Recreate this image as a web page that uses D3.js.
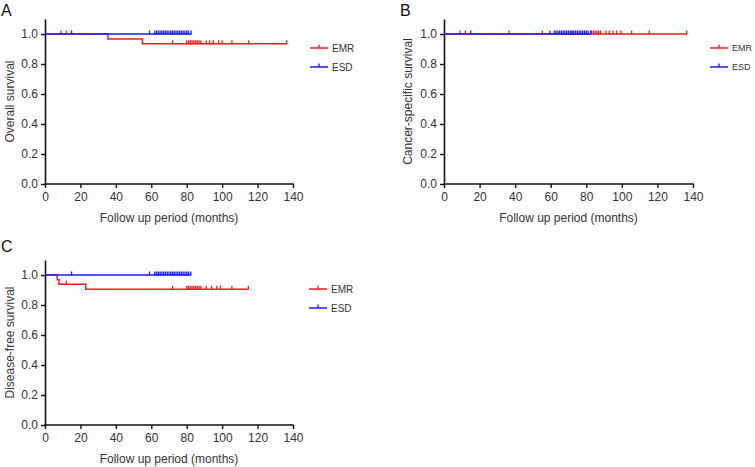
<!DOCTYPE html>
<html>
<head>
<meta charset="utf-8">
<script src="https://cdn.jsdelivr.net/npm/d3@7"></script>
<style>
html,body{margin:0;padding:0;background:#fff;}
svg{display:block;font-family:"Liberation Sans",Arial,Helvetica,sans-serif;}
</style>
</head>
<body>
<svg id="chart" width="755" height="467"></svg>
<script>
// ---- data ----
const xTicks = [0, 20, 40, 60, 80, 100, 120, 140];
const yTicks = [0, 0.2, 0.4, 0.6, 0.8, 1.0];
const seriesNames = ["EMR", "ESD"];
const panelLabels = ["A", "B", "C"];
const yTitles = ["Overall survival", "Cancer-specific survival", "Disease-free survival"];
const xTitle = "Follow up period (months)";

// Overall survival
const osEMRSteps = [[0, 1], [35.5, 0.967], [55, 0.935]];
const osEMREnd = 136.5;
const osEMRCensor = [9, 12, 72, 80, 81, 82, 83, 84, 85, 86, 87, 88, 91, 93, 95, 98, 100, 105.5, 115, 136.5];
const osESDSteps = [[0, 1]];
const osESDEnd = 82.5;
const osESDCensor = [15, 59, 62, 63, 64, 65, 66, 67, 68, 69, 70, 71, 72, 73, 74, 75, 76, 77, 78, 79, 80, 81, 82.5];

// Cancer-specific survival
const cssEMRSteps = [[0, 1]];
const cssEMREnd = 136.5;
const cssEMRCensor = [9, 12, 36.5, 55.3, 72, 83, 84, 85, 86, 87, 88, 91, 93, 95, 97, 99.5, 105.5, 115.4, 136.5];
const cssESDSteps = [[0, 1]];
const cssESDEnd = 82.5;
const cssESDCensor = [15, 59.6, 62, 63, 64, 65, 66, 67, 68, 69, 70, 71, 72, 73, 74, 75, 76, 77, 78, 79, 80, 81, 82.5];

// Disease-free survival
const dfsEMRSteps = [[0, 1], [6.9, 0.969], [7.9, 0.938], [23, 0.905]];
const dfsEMREnd = 114.8;
const dfsEMRCensor = [12, 72, 80, 81, 82, 83, 84, 85, 86, 87, 88, 91, 94, 97, 99, 105.5, 114.8];
const dfsESDSteps = [[0, 1]];
const dfsESDEnd = 82.3;
const dfsESDCensor = [15, 59, 62, 63, 64, 65, 66, 67, 68, 69, 70, 71, 72, 73, 74, 75, 76, 77, 78, 79, 80, 81, 82.3];

// ---- layout ----
const colors = {EMR: "#ff1a1a", ESD: "#1a1aff"};
const panels = [
  {x0: 45, x1: 293, yTop: 19, yBot: 184, lx: 1, ly: 16, tx: 10, legX: 310, legY: 48, legFont: 10,
   data: {EMR: [osEMRSteps, osEMREnd, osEMRCensor], ESD: [osESDSteps, osESDEnd, osESDCensor]}},
  {x0: 444, x1: 693, yTop: 19, yBot: 184, lx: 400, ly: 16, tx: 408, legX: 710, legY: 48, legFont: 9,
   data: {EMR: [cssEMRSteps, cssEMREnd, cssEMRCensor], ESD: [cssESDSteps, cssESDEnd, cssESDCensor]}},
  {x0: 45, x1: 293, yTop: 260, yBot: 425, lx: 1, ly: 252, tx: 10, legX: 309, legY: 289, legFont: 10,
   data: {EMR: [dfsEMRSteps, dfsEMREnd, dfsEMRCensor], ESD: [dfsESDSteps, dfsESDEnd, dfsESDCensor]}}
];

const svg = d3.select("#chart");

panels.forEach((p, i) => {
  const x = d3.scaleLinear().domain([0, 140]).range([p.x0, p.x1]);
  const y = d3.scaleLinear().domain([0, 1.1]).range([p.yBot, p.yTop]);
  const g = svg.append("g");

  // axes
  const xAxis = g.append("g").attr("transform", `translate(0,${p.yBot})`)
    .call(d3.axisBottom(x).tickValues(xTicks).tickSize(4).tickPadding(4).tickSizeOuter(0));
  const yAxis = g.append("g").attr("transform", `translate(${p.x0},0)`)
    .call(d3.axisLeft(y).tickValues(yTicks).tickFormat(d3.format(".1f")).tickSize(4).tickPadding(3).tickSizeOuter(0));
  [xAxis, yAxis].forEach(a => {
    a.select(".domain").attr("stroke", "#111").attr("stroke-width", 1.6);
    a.selectAll(".tick line").attr("stroke", "#111").attr("stroke-width", 1.4);
    a.selectAll(".tick text").attr("fill", "#333").style("font-size", "12px")
      .style("font-family", "'Liberation Sans',Arial,sans-serif");
  });
  xAxis.select(".domain").attr("d", `M${p.x0 - 0.8},0H${p.x1 + 0.7}`);

  // titles
  g.append("text").attr("x", (p.x0 + p.x1) / 2).attr("y", p.yBot + 38)
    .attr("text-anchor", "middle").attr("fill", "#333").style("font-size", "12px").text(xTitle);
  g.append("text").attr("transform", `translate(${p.tx},${(p.yTop + p.yBot) / 2}) rotate(-90)`)
    .attr("text-anchor", "middle").attr("dy", "0.35em").attr("fill", "#333")
    .style("font-size", "12px").text(yTitles[i]);
  g.append("text").attr("x", p.lx).attr("y", p.ly).attr("fill", "#111")
    .style("font-size", "16px").text(panelLabels[i]);

  // curves
  const line = d3.line().x(d => x(d[0])).y(d => y(d[1])).curve(d3.curveStepAfter);
  seriesNames.forEach(name => {
    const [steps, end, cens] = p.data[name];
    const pts = steps.concat([[end, steps[steps.length - 1][1]]]);
    g.append("path").datum(pts).attr("d", line).attr("fill", "none")
      .attr("stroke", colors[name]).attr("stroke-width", 1.5);
    const sAt = t => { let s = 1; steps.forEach(d => { if (d[0] <= t) s = d[1]; }); return s; };
    g.selectAll(null).data(cens).enter().append("line")
      .attr("x1", d => x(d)).attr("x2", d => x(d))
      .attr("y1", d => y(sAt(d)) + 0.5).attr("y2", d => y(sAt(d)) - 3.5)
      .attr("stroke", colors[name]).attr("stroke-width", 1.3);
  });

  // legend
  seriesNames.forEach((name, k) => {
    const ly = p.legY + k * 19;
    const lg = g.append("g");
    lg.append("line").attr("x1", p.legX).attr("x2", p.legX + 18).attr("y1", ly).attr("y2", ly)
      .attr("stroke", colors[name]).attr("stroke-width", 1.5);
    lg.append("line").attr("x1", p.legX + 9).attr("x2", p.legX + 9).attr("y1", ly).attr("y2", ly - 3.5)
      .attr("stroke", colors[name]).attr("stroke-width", 1.3);
    lg.append("text").attr("x", p.legX + 22).attr("y", ly).attr("dy", "0.35em")
      .attr("fill", "#333").style("font-size", p.legFont + "px").text(name);
  });
});
</script>
</body>
</html>
